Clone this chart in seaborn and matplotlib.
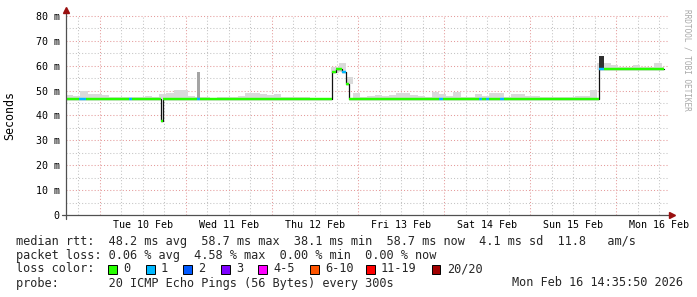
import numpy as np
import pandas as pd
import matplotlib
matplotlib.use("Agg")
import matplotlib.pyplot as plt
import matplotlib.dates as mdates
from matplotlib.patches import Rectangle
from matplotlib.lines import Line2D
import seaborn as sns

sns.set_theme(style="white")
plt.rcParams['font.family'] = ['DejaVu Sans Mono', 'DejaVu Sans']

# ---------------- data ----------------
start_time = "2026-02-09 14:35:50"
end_time = "2026-02-16 14:35:50"
data_end = "2026-02-16 13:18"

# median rtt (ms) step segments: start time, value, loss band index
seg_start = ["2026-02-09 14:36", "2026-02-09 18:13", "2026-02-09 20:06",
             "2026-02-10 08:15", "2026-02-10 08:55", "2026-02-10 17:05",
             "2026-02-10 17:43", "2026-02-11 03:06", "2026-02-11 03:51",
             "2026-02-12 16:40", "2026-02-12 17:47", "2026-02-12 19:38",
             "2026-02-12 20:45", "2026-02-12 21:34", "2026-02-13 22:35",
             "2026-02-13 23:46", "2026-02-14 09:43", "2026-02-14 10:34",
             "2026-02-14 11:36", "2026-02-14 12:36", "2026-02-14 15:35",
             "2026-02-14 16:42", "2026-02-15 19:16", "2026-02-15 20:30"]
seg_median = [46.7, 46.7, 46.7, 46.7, 46.7, 37.9, 46.7, 46.7, 46.7,
              57.3, 58.7, 57.5, 52.8, 46.7, 46.7, 46.7, 46.7, 46.7,
              46.7, 46.7, 46.7, 46.7, 58.7, 58.7]
seg_loss = [0, 1, 0, 1, 0, 0, 0, 1, 0,
            0, 0, 1, 0, 0, 1, 0, 1, 0,
            1, 0, 1, 0, 1, 0]

# smoke (2-hour bins from start): upper and lower edge in ms
smoke_top = [48.4, 48.0, 50.0, 48.5, 48.5, 48.4, 47.6, 47.3, 47.6, 47.4,
             47.5, 48.0, 47.5, 48.7, 49.0, 50.3, 50.3, 48.0, 47.5, 47.3,
             47.2, 47.5, 47.3, 47.6, 48.0, 49.2, 49.2, 48.6, 48.4, 48.6,
             47.5, 47.3, 47.4, 47.6, 47.2, 47.2, 47.2, 59.4, 61.0, 55.5,
             49.2, 47.6, 47.8, 48.2, 48.0, 48.2, 48.9, 48.9, 48.2, 47.8,
             47.5, 49.5, 48.6, 47.8, 49.5, 47.5, 47.6, 48.6, 47.8, 49.2,
             49.2, 47.6, 48.6, 48.6, 48.0, 48.0, 47.4, 47.6, 47.3, 47.3,
             47.6, 48.0, 48.0, 50.2, 61.3, 61.3, 60.2, 59.5, 59.3, 60.2,
             59.3, 59.5, 61.3, 59.3]
smoke_low = [46.5] * 37 + [57.0, 57.4, 52.5] + [46.5] * 34 + [58.4] * 10

# dense smoke spikes
spike_start = ["2026-02-11 03:06", "2026-02-15 19:16"]
spike_end = ["2026-02-11 03:51", "2026-02-15 20:30"]
spike_low = [46.7, 58.7]
spike_high = [57.5, 64.0]
spike_color = ['#a4a4a4', '#303030']

y_ticks = [0, 10, 20, 30, 40, 50, 60, 70, 80]
day_labels = ["Tue 10 Feb", "Wed 11 Feb", "Thu 12 Feb", "Fri 13 Feb",
              "Sat 14 Feb", "Sun 15 Feb", "Mon 16 Feb"]
day_label_times = ["2026-02-10 12:00", "2026-02-11 12:00", "2026-02-12 12:00",
                   "2026-02-13 12:00", "2026-02-14 12:00", "2026-02-15 12:00",
                   "2026-02-16 12:00"]

loss_labels = ["0", "1", "2", "3", "4-5", "6-10", "11-19", "20/20"]
loss_colors = ['#26ff00', '#00b8ff', '#0059ff', '#7e00ff', '#ff00ff',
               '#ff5500', '#ff0000', '#a10000']

# ---------------- figure ----------------
W, H = 697, 297
fig = plt.figure(figsize=(W / 100, H / 100), dpi=100)
fig.patch.set_facecolor('white')
ax = fig.add_axes([66 / W, 82 / H, 602.7 / W, 200 / H])
ax.set_facecolor('white')

t0 = pd.Timestamp(start_time)
t1 = pd.Timestamp(end_time)
tend = pd.Timestamp(data_end)
ax.set_xlim(t0, t1)
ax.set_ylim(0, 80.4)

# grid
grid_gray = '#c4c4c4'
grid_red = '#e49a9a'
dot = (0, (1, 2))
for h in pd.date_range("2026-02-09 18:00", "2026-02-16 12:00", freq="6h"):
    is_mid = h.hour == 0
    ax.axvline(h, color=grid_red if is_mid else grid_gray, lw=0.75,
               linestyle=dot, zorder=0.5 if not is_mid else 0.6)
for v in np.arange(5, 81, 5):
    is_major = v % 10 == 0
    ax.axhline(v, color=grid_red if is_major else grid_gray, lw=0.75,
               linestyle=dot, zorder=0.6 if is_major else 0.5)

# smoke
edges = pd.date_range(t0, periods=len(smoke_top) + 1, freq="2h")
for i in range(len(smoke_top)):
    a = edges[i]
    b = min(edges[i + 1], tend)
    if b <= a:
        continue
    x0 = mdates.date2num(a)
    w = mdates.date2num(b) - x0
    ax.bar(x0, smoke_top[i] - smoke_low[i], bottom=smoke_low[i], width=w,
           align='edge', color='#dadada', linewidth=0, zorder=1)
for s, e, lo, hi, c in zip(spike_start, spike_end, spike_low, spike_high, spike_color):
    x0 = mdates.date2num(pd.Timestamp(s))
    w = mdates.date2num(pd.Timestamp(e)) - x0
    ax.bar(x0, hi - lo, bottom=lo, width=w, align='edge', color=c,
           linewidth=0, zorder=1.5)

# median: thin black step line then loss-coloured segments
times = pd.to_datetime(seg_start + [data_end])
df = pd.DataFrame({"time": times, "median": seg_median + [seg_median[-1]]})
sns.lineplot(data=df, x="time", y="median", drawstyle='steps-post',
             color='#111111', lw=0.9, estimator=None, ax=ax, zorder=2)
for i in range(len(seg_start)):
    ax.hlines(seg_median[i], times[i], times[i + 1],
              color=loss_colors[seg_loss[i]], lw=1.75, zorder=3,
              capstyle='butt')

# axes styling
for sp in ax.spines.values():
    sp.set_visible(False)
ax.set_xlabel("")
ax.set_ylabel("")
ax.set_yticks(y_ticks)
ax.set_yticklabels([f"{v} m" if v else "0" for v in y_ticks])
ax.set_xticks(pd.to_datetime(day_label_times))
ax.set_xticklabels(day_labels)
ax.tick_params(axis='y', length=0, pad=4.5, labelsize=7.2, labelcolor='#000000')
ax.tick_params(axis='x', length=0, pad=3.5, labelsize=7.2, labelcolor='#000000')
ax.grid(False)

# axis lines + arrows (figure pixel coords)
def fx(x):
    return x / W

def fy(y):
    return 1 - y / H

axis_col = '#505050'
arrow_col = '#9a1010'
fig.add_artist(Line2D([fx(62), fx(669)], [fy(215), fy(215)], color=axis_col, lw=0.9))
fig.add_artist(Line2D([fx(66), fx(66)], [fy(219), fy(12)], color=axis_col, lw=0.9))
fig.add_artist(Line2D([fx(671.5)], [fy(215)], marker='>', color=arrow_col,
                      markersize=4, linestyle='none'))
fig.add_artist(Line2D([fx(66)], [fy(10)], marker='^', color=arrow_col,
                      markersize=4, linestyle='none'))

# labels
fig.text(fx(10), fy(115), "Seconds", rotation=90, ha='center', va='center',
         fontsize=8.4, color='#000000')
fig.text(fx(687), fy(60), "RRDTOOL / TOBI OETIKER", rotation=270,
         ha='center', va='center', fontsize=5.6, color='#a8a8a8')

fs = 8.6
fig.text(fx(16), fy(241),
         "median rtt:  48.2 ms avg  58.7 ms max  38.1 ms min  58.7 ms now  4.1 ms sd  11.8   am/s",
         ha='left', va='center', fontsize=fs)
fig.text(fx(16), fy(255),
         "packet loss: 0.06 % avg  4.58 % max  0.00 % min  0.00 % now",
         ha='left', va='center', fontsize=fs)
fig.text(fx(16), fy(269), "loss color:", ha='left', va='center', fontsize=fs)
box_x = [108, 146, 183, 221, 258, 310, 366, 432]
for bx, lab, col in zip(box_x, loss_labels, loss_colors):
    fig.add_artist(Rectangle((fx(bx), fy(273.5)), 8.5 / W, 9 / H,
                             transform=fig.transFigure, facecolor=col,
                             edgecolor='black', lw=0.7))
    fig.text(fx(bx + 15), fy(269), lab, ha='left', va='center', fontsize=fs)
fig.text(fx(16), fy(283), "probe:       20 ICMP Echo Pings (56 Bytes) every 300s",
         ha='left', va='center', fontsize=fs)
fig.text(fx(683), fy(283), "Mon Feb 16 14:35:50 2026", ha='right', va='center',
         fontsize=fs)

fig.savefig("out.png", dpi=100, facecolor='white')
